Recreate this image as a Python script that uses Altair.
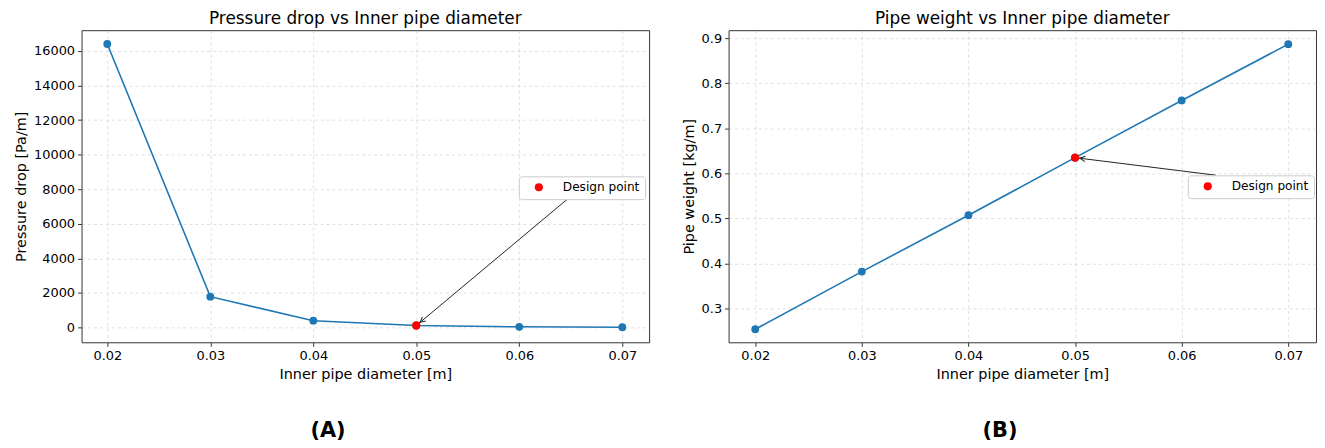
import altair as alt
import pandas as pd

# ---- data ----
diameter = [0.02, 0.03, 0.04, 0.05, 0.06, 0.07]
pressure_drop = [16400, 1780, 390, 110, 35, 12]
pipe_weight = [0.254, 0.382, 0.507, 0.635, 0.762, 0.887]

design_diameter = 0.05
design_pressure = 110
design_weight = 0.635
design_label = "Design point"

# arrow tails (data coordinates, where the arrow leaves the legend box)
arrow_tail_a = [0.0649, 7540]
arrow_tail_b = [0.0632, 0.596]

x_ticks = [0.02, 0.03, 0.04, 0.05, 0.06, 0.07]
pressure_ticks = [0, 2000, 4000, 6000, 8000, 10000, 12000, 14000, 16000]
weight_ticks = [0.3, 0.4, 0.5, 0.6, 0.7, 0.8, 0.9]

titles = ["Pressure drop vs Inner pipe diameter", "Pipe weight vs Inner pipe diameter"]
y_titles = ["Pressure drop [Pa/m]", "Pipe weight [kg/m]"]
x_title = "Inner pipe diameter [m]"
panel_labels = ["(A)", "(B)"]

FONT = "DejaVu Sans"
BLUE = "#1f77b4"
ARROW = "#222222"
CHEVRON = "M -0.18 0.68 L 0 0.33 L 0.18 0.68"


def panel(values, y_ticks, y_domain, y_fmt, design_y, tail, head_angle,
          title, y_title, label, width, height, legend_x, legend_y, label_x):
    df = pd.DataFrame({"d": diameter, "v": values})
    design = pd.DataFrame({"d": [design_diameter], "v": [design_y], "name": [design_label]})
    arrow = pd.DataFrame({"d": [tail[0]], "v": [tail[1]], "d2": [design_diameter], "v2": [design_y]})
    lab = pd.DataFrame({"label": [label]})

    x = alt.X("d:Q", scale=alt.Scale(domain=[0.0175, 0.0726], nice=False, zero=False),
              axis=alt.Axis(values=x_ticks, format=".2f", title=x_title))
    y = alt.Y("v:Q", scale=alt.Scale(domain=y_domain, nice=False, zero=False),
              axis=alt.Axis(values=y_ticks, format=y_fmt, title=y_title))

    line = alt.Chart(df).mark_line(color=BLUE, strokeWidth=1.6).encode(x=x, y=y)
    pts = alt.Chart(df).mark_circle(color=BLUE, size=62, opacity=1).encode(x=x, y=y)
    rule = alt.Chart(arrow).mark_rule(color=ARROW, strokeWidth=1).encode(
        x=x, y=y, x2="d2:Q", y2="v2:Q")
    head = alt.Chart(design).mark_point(
        shape=CHEVRON, size=900, filled=False, color=ARROW, strokeWidth=1,
        angle=head_angle, opacity=1).encode(x=x, y=y)
    red = alt.Chart(design).mark_circle(size=72, opacity=1).encode(
        x=x, y=y,
        color=alt.Color("name:N", scale=alt.Scale(domain=[design_label], range=["#ff0000"]),
                        legend=alt.Legend(title=None, orient="none", legendX=legend_x,
                                          legendY=legend_y, fillColor="white",
                                          strokeColor="#cccccc", cornerRadius=3,
                                          padding=5, symbolSize=66, symbolType="circle",
                                          labelFontSize=12.2, labelFont=FONT,
                                          labelColor="black", labelOffset=18,
                                          symbolOffset=9)))
    tag = alt.Chart(lab).mark_text(font=FONT, fontSize=21, fontWeight="bold",
                                   color="black").encode(
        text="label:N", x=alt.value(label_x), y=alt.value(403))
    return alt.layer(line, pts, rule, head, red, tag).properties(
        width=width, height=height, title=title)


left = panel(pressure_drop, pressure_ticks, [-860, 17200], "d", design_pressure,
             arrow_tail_a, 230, titles[0], y_titles[0], panel_labels[0],
             571, 314, 440, 147, 248)
right = panel(pipe_weight, weight_ticks, [0.225, 0.918], ".1f", design_weight,
              arrow_tail_b, 277, titles[1], y_titles[1], panel_labels[1],
              591, 314, 462, 146, 273)

chart = alt.hconcat(left, right, spacing=30).resolve_scale(color="independent").properties(
    padding={"left": 5, "top": 0, "right": 0, "bottom": 0}
).configure_view(
    stroke="#333333", strokeWidth=1
).configure_axis(
    labelFont=FONT, titleFont=FONT, labelFontSize=13, titleFontSize=14.5,
    labelColor="black", titleColor="black", titleFontWeight="normal",
    tickColor="#333333", tickSize=4, domain=False,
    grid=True, gridColor="#b0b0b0", gridOpacity=0.5, gridDash=[3, 3], gridWidth=0.8,
    labelPadding=3, titlePadding=5
).configure_title(
    font=FONT, fontSize=17, fontWeight="normal", color="black", anchor="middle", offset=2
)

chart.save("out.html", embed_options={"renderer": "svg", "actions": False})
